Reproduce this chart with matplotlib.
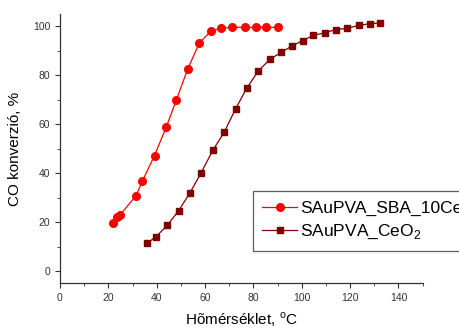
import matplotlib
matplotlib.use('Agg')
import matplotlib.pyplot as plt
from matplotlib.ticker import MultipleLocator

plt.rcParams['font.family'] = ['Liberation Sans', 'DejaVu Sans']
plt.rcParams['mathtext.fontset'] = 'custom'
plt.rcParams['mathtext.rm'] = 'Liberation Sans'

# SAuPVA_SBA_10Ce (red circles)
sba_temp = [22.1, 23.7, 24.7, 31.4, 34.0, 39.1, 43.9, 48.1, 52.8, 57.6,
            62.3, 66.7, 71.3, 76.4, 80.9, 85.2, 90.1]
sba_conv = [19.8, 22.1, 22.8, 30.7, 36.6, 47.2, 58.7, 69.8, 82.5, 93.1,
            98.0, 99.3, 99.6, 99.6, 99.6, 99.6, 99.6]

# SAuPVA_CeO2 (maroon squares)
ceo_temp = [36.1, 39.8, 44.4, 49.1, 53.8, 58.4, 63.2, 67.9, 72.7, 77.4,
            82.0, 86.8, 91.5, 96.0, 100.4, 104.8, 109.5, 114.1, 118.8,
            123.5, 128.3, 132.4]
ceo_conv = [11.4, 14.1, 18.7, 24.7, 32.0, 40.2, 49.3, 56.7, 66.4, 75.0,
            81.7, 86.5, 89.4, 92.0, 94.2, 96.3, 97.4, 98.7, 99.2,
            100.4, 101.1, 101.4]

fig = plt.figure(figsize=(4.59, 3.29), dpi=100)
ax = fig.add_axes([0.1307, 0.139, 0.79, 0.818])

ax.plot(sba_temp, sba_conv, '-o', color='#ff0000', lw=0.9, ms=5.5,
        label='SAuPVA_SBA_10Ce')
ax.plot(ceo_temp, ceo_conv, '-s', color='#800000', lw=0.9, ms=4.8,
        label='SAuPVA_CeO$_2$')

ax.set_xlim(0, 150)
ax.set_ylim(-5, 105)
ax.xaxis.set_major_locator(MultipleLocator(20))
ax.xaxis.set_minor_locator(MultipleLocator(10))
ax.yaxis.set_major_locator(MultipleLocator(20))
ax.yaxis.set_minor_locator(MultipleLocator(10))
ax.tick_params(which='both', direction='out', colors='#333333', labelsize=7.5)
ax.tick_params(which='major', length=3.5)
ax.tick_params(which='minor', length=2.5)
ax.spines['top'].set_visible(False)
ax.spines['right'].set_visible(False)
for s in ('left', 'bottom'):
    ax.spines[s].set_color('#333333')
    ax.spines[s].set_linewidth(0.9)

ax.set_xlabel('Hõmérséklet, $^{\\rm o}$C', fontsize=11, labelpad=5)
ax.set_ylabel('CO konverzió, %', fontsize=11, labelpad=8)

leg = fig.legend(loc='upper left', bbox_to_anchor=(0.5505, 0.4195),
                 borderaxespad=0, fontsize=12.5, frameon=True, fancybox=False,
                 handlelength=2.0, borderpad=0.55, labelspacing=0.4,
                 handletextpad=0.2)
leg.get_frame().set_edgecolor('#333333')
leg.get_frame().set_linewidth(0.9)

fig.savefig('out.png', dpi=100)
